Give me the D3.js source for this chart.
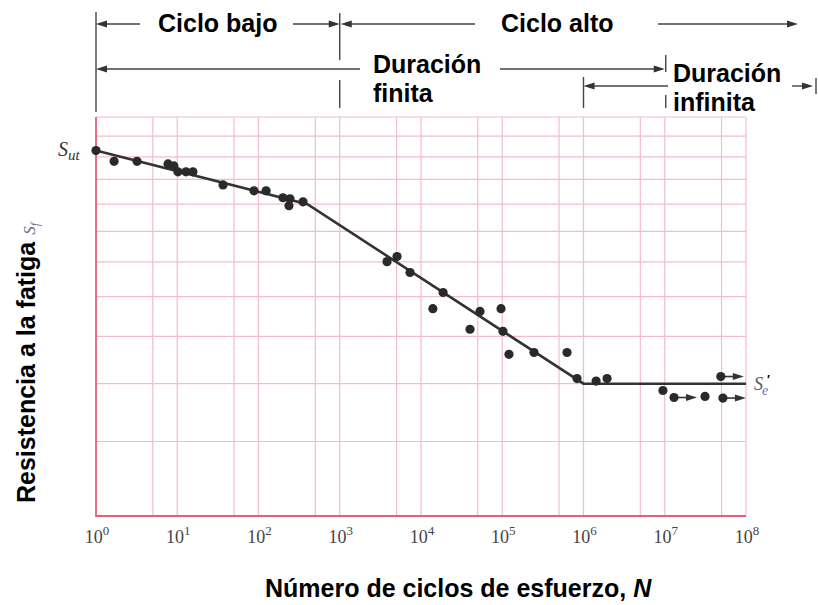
<!DOCTYPE html>
<html>
<head>
<meta charset="utf-8">
<script src="https://cdn.jsdelivr.net/npm/d3@7"></script>
<style>
  body { margin: 0; background: #fff; }
  svg { display: block; }
  .note { font-family: "Liberation Sans", Arial, sans-serif; font-weight: bold; font-size: 25px; fill: #000; }
  .tick { font-family: "Liberation Serif", "Times New Roman", serif; font-size: 18px; fill: #444; }
</style>
</head>
<body>
<div id="chart"></div>
<script>
// fatigue test points: cycles N and strength (arbitrary units)
let cycles = [1, 1.67, 3.2, 7.7, 9.1, 10.2, 12.8, 15.6, 36.6, 88, 124, 200, 244, 237, 353,
  3820, 5070, 7330, 18700, 14000, 53200, 96600, 40100, 102000, 121000, 246000, 627000,
  832000, 1.43e6, 1.95e6, 9.5e6, 1.3e7, 3.13e7, 5.2e7, 4.9e7];
let strength = [123, 118, 118, 116.8, 115.9, 113.3, 113.3, 113.3, 107.7, 105.3, 105.3, 102.5, 102.1, 99.4, 100.9,
  80.1, 81.7, 76.8, 71.1, 66.8, 66.1, 66.8, 61.7, 61.2, 56.0, 56.4, 56.4,
  51.0, 50.5, 51.0, 48.7, 47.4, 47.6, 47.3, 51.4];
// points that did not fail (run-outs)
let runout = [31, 33, 34];

// fitted S-N curve
let fitN = [1, 400, 1e6, 1e8];
let fitS = [123, 100, 50, 50];

let decades = [0, 1, 2, 3, 4, 5, 6, 7, 8];
let gridS = [40, 50, 60, 70, 80, 90, 100, 110, 120, 130];

let width = 818,
    height = 605;

let x = d3.scaleLog().domain([1, 1e8]).range([96, 746]);
let y = d3.scaleLog().domain([30, 140]).range([516, 117]);

let svg = d3.select("#chart").append("svg")
    .attr("width", width)
    .attr("height", height);

// grid
let gridN = [];
decades.forEach(d => {
  if (d > 0) gridN.push(Math.pow(10, d));
  if (d < 8) gridN.push(5 * Math.pow(10, d));
});

let grid = svg.append("g").attr("stroke", "#f4bccb").attr("stroke-width", 1.2);
grid.selectAll("line.v")
    .data(gridN)
  .enter().append("line")
    .attr("class", "v")
    .attr("x1", d => x(d)).attr("x2", d => x(d))
    .attr("y1", y.range()[1]).attr("y2", y.range()[0]);
grid.selectAll("line.h")
    .data(gridS.concat([140]))
  .enter().append("line")
    .attr("class", "h")
    .attr("x1", x.range()[0]).attr("x2", x.range()[1])
    .attr("y1", d => y(d)).attr("y2", d => y(d));

// axes (left and bottom, stronger red)
svg.append("path")
    .attr("d", "M" + x(1) + "," + y(140) + "V" + y(30) + "H" + x(1e8))
    .attr("fill", "none")
    .attr("stroke", "#e2607c")
    .attr("stroke-width", 1.8);

// tick labels 10^n
let ticks = svg.append("g").selectAll("text")
    .data(decades)
  .enter().append("text")
    .attr("class", "tick")
    .attr("x", d => x(Math.pow(10, d)) + 1)
    .attr("y", 543)
    .attr("text-anchor", "middle");
ticks.append("tspan").text("10");
ticks.append("tspan")
    .attr("dy", -8)
    .attr("font-size", 13)
    .text(d => d);

// fitted curve
let line = d3.line()
    .x((d, i) => x(fitN[i]))
    .y((d, i) => y(fitS[i]));
svg.append("path")
    .attr("d", line(fitN))
    .attr("fill", "none")
    .attr("stroke", "#333")
    .attr("stroke-width", 2.6);

// run-out arrows
let marks = svg.append("g");
runout.forEach(i => {
  let px = x(cycles[i]), py = y(strength[i]);
  marks.append("line")
      .attr("x1", px).attr("x2", px + 14)
      .attr("y1", py).attr("y2", py)
      .attr("stroke", "#333").attr("stroke-width", 1.6);
  marks.append("path")
      .attr("d", "M" + (px + 23) + "," + py + "l-11,-3.5v7z")
      .attr("fill", "#333");
});

// points
marks.selectAll("circle")
    .data(cycles)
  .enter().append("circle")
    .attr("cx", d => x(d))
    .attr("cy", (d, i) => y(strength[i]))
    .attr("r", 4.6)
    .attr("fill", "#2a2a2a");

// S_ut and S'_e labels
let sut = svg.append("text")
    .attr("x", 58).attr("y", 156)
    .attr("font-family", "Liberation Serif, serif")
    .attr("font-style", "italic")
    .attr("font-size", 20)
    .attr("fill", "#333");
sut.append("tspan").text("S");
sut.append("tspan").attr("dy", 4).attr("font-size", 15).text("ut");

let se = svg.append("text")
    .attr("x", 754).attr("y", 390)
    .attr("font-family", "Liberation Serif, serif")
    .attr("font-style", "italic")
    .attr("font-size", 18);
se.append("tspan").attr("fill", "#4a5a6a").text("S");
se.append("tspan").attr("dy", 5).attr("dx", -1).attr("font-size", 14).attr("fill", "#6a6ab8").text("e");
svg.append("text")
    .attr("x", 767).attr("y", 384)
    .attr("font-family", "Liberation Sans, sans-serif")
    .attr("font-weight", "bold")
    .attr("font-size", 12)
    .attr("fill", "#000")
    .text("′");

// axis titles
let ylab = svg.append("text")
    .attr("class", "note")
    .attr("font-size", 26)
    .attr("transform", "translate(35,503) rotate(-90)");
ylab.append("tspan").text("Resistencia a la fatiga ");
ylab.append("tspan")
    .attr("font-family", "Liberation Serif, serif")
    .attr("font-weight", "normal")
    .attr("font-style", "italic")
    .attr("font-size", 17)
    .attr("fill", "#6b6b80")
    .text("S");
ylab.append("tspan")
    .attr("font-family", "Liberation Serif, serif")
    .attr("font-weight", "normal")
    .attr("font-style", "italic")
    .attr("font-size", 12)
    .attr("dy", 4)
    .attr("fill", "#6b6b80")
    .text("f");

let xlab = svg.append("text")
    .attr("class", "note")
    .attr("font-size", 26)
    .attr("x", 265).attr("y", 597);
xlab.append("tspan").text("Número de ciclos de esfuerzo, ");
xlab.append("tspan").attr("font-style", "italic").text("N");

// life-range annotations on top
let ann = svg.append("g");
function arrow(x1, x2, yy) {
  let dir = x2 > x1 ? 1 : -1;
  ann.append("line")
      .attr("x1", x1).attr("x2", x2 - dir * 8)
      .attr("y1", yy).attr("y2", yy)
      .attr("stroke", "#444").attr("stroke-width", 1.4);
  ann.append("path")
      .attr("d", "M" + x2 + "," + yy + "l" + (-dir * 11) + ",-3.5v7z")
      .attr("fill", "#333");
}
function vbar(xx, y1, y2) {
  ann.append("line")
      .attr("x1", xx).attr("x2", xx)
      .attr("y1", y1).attr("y2", y2)
      .attr("stroke", "#444").attr("stroke-width", 1.4);
}

vbar(x(1), 12, 112);
vbar(x(1e3), 13, 60);
vbar(x(1e3), 80, 108);
vbar(x(1e6), 77, 108);
vbar(x(1e7) + 1, 55, 72);
vbar(x(1e7) + 1, 95, 108);
vbar(816, 78, 94);

arrow(140, x(1), 24);
arrow(293, x(1e3), 24);
arrow(475, x(1e3) + 1, 24);
arrow(658, 798, 24);
arrow(360, x(1), 69);
arrow(500, x(1e7), 69);
arrow(668, x(1e6), 86);
arrow(792, 813, 86);

// two-line notes are drawn as one text with tspans
let notes = [
  {t: ["Ciclo bajo"], x: 158, y: 32},
  {t: ["Ciclo alto"], x: 501, y: 32},
  {t: ["Duración", "finita"], x: 373, y: 73},
  {t: ["Duración", "infinita"], x: 673, y: 82}
];
let noteText = ann.selectAll("text")
    .data(notes)
  .enter().append("text")
    .attr("class", "note")
    .attr("y", d => d.y);
noteText.selectAll("tspan")
    .data(d => d.t.map((s, i) => ({s: s, i: i, x: d.x})))
  .enter().append("tspan")
    .attr("x", d => d.x)
    .attr("dy", d => d.i ? 28.5 : 0)
    .text(d => d.s);
</script>
</body>
</html>
